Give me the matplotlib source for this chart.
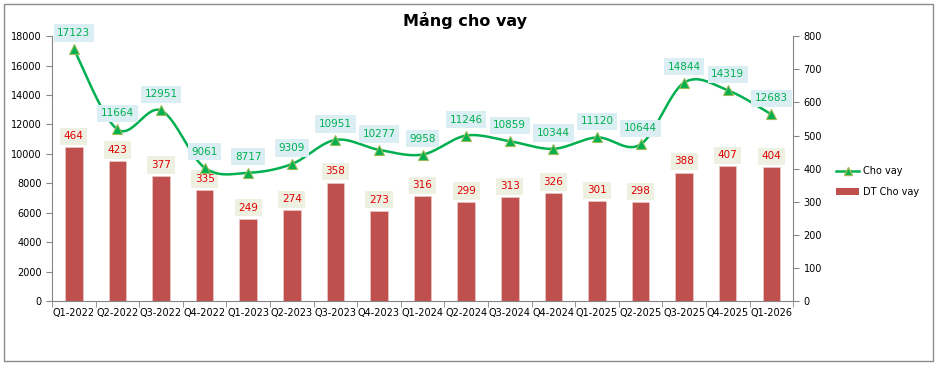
import matplotlib.pyplot as plt
import matplotlib.patches as mpatches
from matplotlib.lines import Line2D
import numpy as np

# Data
quarters = ['Q1-2022', 'Q2-2022', 'Q3-2022', 'Q4-2022', 'Q1-2023', 'Q2-2023',
            'Q3-2023', 'Q4-2023', 'Q1-2024', 'Q2-2024', 'Q3-2024', 'Q4-2024',
            'Q1-2025', 'Q2-2025', 'Q3-2025', 'Q4-2025', 'Q1-2026']
cho_vay = [17123, 11664, 12951, 9061, 8717, 9309, 10951, 10277, 9958,
           11246, 10859, 10344, 11120, 10644, 14844, 14319, 12683]
dt_cho_vay = [464, 423, 377, 335, 249, 274, 358, 273, 316, 299, 313, 326,
              301, 298, 388, 407, 404]

GREEN = '#00B050'
RED_BAR = '#C0504D'


def smooth_curve(x, y, n=30):
    """Catmull-Rom style smoothing, similar to Excel's smoothed line."""
    x = np.asarray(x, float)
    y = np.asarray(y, float)
    px = np.concatenate([[x[0]], x, [x[-1]]])
    py = np.concatenate([[y[0]], y, [y[-1]]])
    xs, ys = [], []
    for i in range(1, len(px) - 2):
        p0, p1, p2, p3 = (px[i - 1], py[i - 1]), (px[i], py[i]), (px[i + 1], py[i + 1]), (px[i + 2], py[i + 2])
        c1 = (p1[0] + (p2[0] - p0[0]) / 6, p1[1] + (p2[1] - p0[1]) / 6)
        c2 = (p2[0] - (p3[0] - p1[0]) / 6, p2[1] - (p3[1] - p1[1]) / 6)
        t = np.linspace(0, 1, n)
        bx = (1 - t) ** 3 * p1[0] + 3 * (1 - t) ** 2 * t * c1[0] + 3 * (1 - t) * t ** 2 * c2[0] + t ** 3 * p2[0]
        by = (1 - t) ** 3 * p1[1] + 3 * (1 - t) ** 2 * t * c1[1] + 3 * (1 - t) * t ** 2 * c2[1] + t ** 3 * p2[1]
        xs.extend(bx)
        ys.extend(by)
    return np.array(xs), np.array(ys)


plt.rcParams['font.family'] = ['DejaVu Sans']
fig = plt.figure(figsize=(9.37, 3.65), dpi=100)
fig.patch.set_facecolor('white')
fig.patches.append(mpatches.Rectangle((0.004, 0.012), 0.992, 0.978, transform=fig.transFigure,
                                      fill=False, edgecolor='#8c8c8c', linewidth=1.0))

ax = fig.add_axes([0.0555, 0.175, 0.791, 0.726])
ax2 = ax.twinx()
ax.set_zorder(ax2.get_zorder() + 1)
ax.patch.set_visible(False)

x = np.arange(len(quarters))

# bars on secondary axis
ax2.bar(x, dt_cho_vay, width=0.4, color=RED_BAR, edgecolor='#e8c9c8', linewidth=0.5, zorder=2)
for xi, v in zip(x, dt_cho_vay):
    ax2.annotate(str(v), (xi, v), xytext=(0, 8), textcoords='offset points',
                 ha='center', va='center', fontsize=7.5, color='#E00000',
                 bbox=dict(boxstyle='square,pad=0.35', facecolor='#EEF1E2', edgecolor='none'), zorder=3)

# smoothed line on primary axis
sx, sy = smooth_curve(x, cho_vay)
ax.plot(sx, sy, color=GREEN, linewidth=1.8, zorder=4)
ax.plot(x, cho_vay, linestyle='none', marker='^', markersize=6.5, markerfacecolor=GREEN,
        markeredgecolor='#9BBB59', markeredgewidth=0.8, zorder=5)
for xi, v in zip(x, cho_vay):
    ax.annotate(str(v), (xi, v), xytext=(0, 11.5), textcoords='offset points',
                ha='center', va='center', fontsize=7.5, color=GREEN,
                bbox=dict(boxstyle='square,pad=0.35', facecolor='#DAEEF3', edgecolor='none'), zorder=6)

ax.set_xlim(-0.5, len(quarters) - 0.5)
ax.set_ylim(0, 18000)
ax.set_yticks(np.arange(0, 18001, 2000))
ax2.set_ylim(0, 800)
ax2.set_yticks(np.arange(0, 801, 100))

ax.set_xticks(x)
ax.set_xticklabels(quarters)
ax.set_xticks(np.arange(-0.5, len(quarters), 1), minor=True)
ax.tick_params(axis='x', which='major', length=0, labelsize=7, pad=5)
ax.tick_params(axis='x', which='minor', length=4, color='#868686', direction='out')
ax.tick_params(axis='y', labelsize=7, length=4, color='#868686')
ax2.tick_params(axis='y', labelsize=7, length=4, color='#868686')

for a in (ax, ax2):
    a.spines['top'].set_visible(False)
    for s in ('left', 'right', 'bottom'):
        a.spines[s].set_color('#868686')
ax2.spines['left'].set_visible(False)
ax2.spines['bottom'].set_visible(False)
ax.spines['right'].set_visible(False)

fig.text(0.496, 0.945, 'Mảng cho vay', ha='center', va='center', fontsize=11.5, fontweight='bold')

handles = [Line2D([0], [0], color=GREEN, linewidth=1.8, marker='^', markersize=6,
                  markerfacecolor=GREEN, markeredgecolor='#9BBB59'),
           mpatches.Patch(facecolor=RED_BAR, edgecolor='none')]
fig.legend(handles, ['Cho vay', 'DT Cho vay'], loc='center left', bbox_to_anchor=(0.883, 0.502),
           frameon=False, fontsize=7, handlelength=2.4, labelspacing=1.1, handletextpad=0.4)

fig.savefig('out.png', dpi=100)
